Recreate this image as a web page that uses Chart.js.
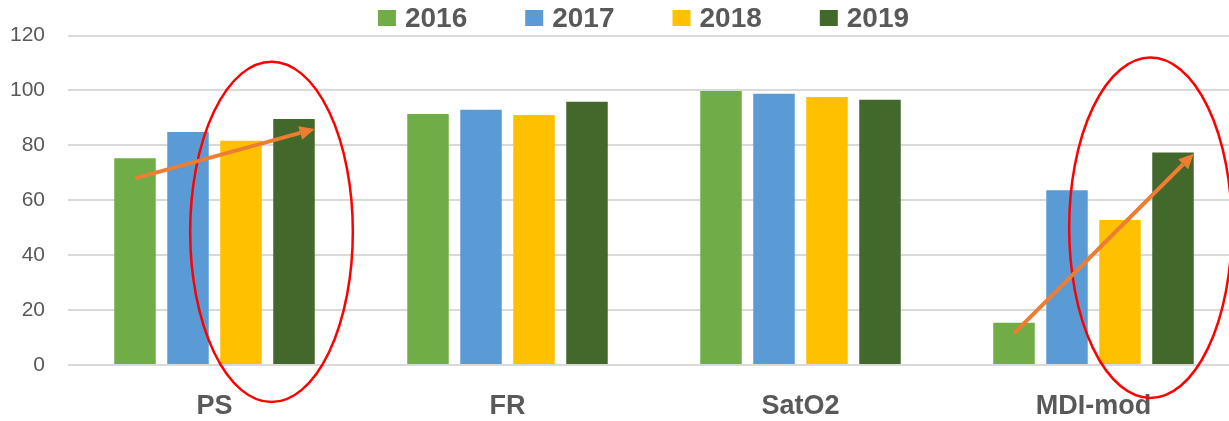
<!DOCTYPE html>
<html>
<head>
<meta charset="utf-8">
<script src="https://cdn.jsdelivr.net/npm/chart.js@4"></script>
<style>
html, body { margin: 0; padding: 0; background: #fff; overflow: hidden; }
#wrap { width: 1287px; height: 421px; position: relative; }
</style>
</head>
<body>
<div id="wrap"><canvas id="chart"></canvas></div>
<script>
const categories = ['PS', 'FR', 'SatO2', 'MDI-mod'];
const years = ['2016', '2017', '2018', '2019'];
const values2016 = [75.3, 91.4, 99.8, 15.4];
const values2017 = [84.9, 93.0, 98.8, 63.7];
const values2018 = [81.7, 91.1, 97.6, 52.8];
const values2019 = [89.6, 95.9, 96.6, 77.4];
const colours = ['#70AD47', '#5B9BD5', '#FFC000', '#43682B'];

// circled groups and their trend arrows, in y-axis units
const circled = ['PS', 'MDI-mod'];
const circleTop = [110.5, 112];
const circleBottom = [-13.5, -12];
const arrowStart = [68, 11.5];
const arrowEnd = [86, 77];

const FONT = '"Liberation Sans", Arial, sans-serif';
const TEXT = '#595959';

const allValues = [values2016, values2017, values2018, values2019];

// legend row drawn by hand so it can sit high above the plot
const legendRow = {
	id: 'legendRow',
	afterDraw(chart) {
		const ctx = chart.ctx;
		ctx.save();
		ctx.font = 'bold 28px ' + FONT;
		const box = 18, gap = 9, space = 58;
		const widths = chart.data.datasets.map(d => ctx.measureText(d.label).width);
		const total = widths.reduce((s, w) => s + box + gap + w, 0) + space * (widths.length - 1);
		let x = chart.width / 2 - total / 2;
		chart.data.datasets.forEach((d, i) => {
			ctx.fillStyle = d.backgroundColor;
			ctx.fillRect(x, 10, box, 16);
			ctx.fillStyle = TEXT;
			ctx.textBaseline = 'alphabetic';
			ctx.fillText(d.label, x + box + gap, 27);
			x += box + gap + widths[i] + space;
		});
		ctx.restore();
	}
};

const notes = {
	id: 'notes',
	afterDatasetsDraw(chart) {
		const ctx = chart.ctx;
		const y = chart.scales.y;
		const first = chart.getDatasetMeta(0);
		const third = chart.getDatasetMeta(2);
		const last = chart.getDatasetMeta(3);
		ctx.save();
		circled.forEach((cat, i) => {
			const k = categories.indexOf(cat);
			const a = third.data[k], b = last.data[k];
			const cx = (a.x + b.x) / 2 + 4;
			const top = y.getPixelForValue(circleTop[i]);
			const bottom = y.getPixelForValue(circleBottom[i]);
			ctx.beginPath();
			ctx.ellipse(cx, (top + bottom) / 2, b.width * 1.96, (bottom - top) / 2, 0, 0, Math.PI * 2);
			ctx.strokeStyle = '#FF0000';
			ctx.lineWidth = 2.5;
			ctx.stroke();
		});
		circled.forEach((cat, i) => {
			const k = categories.indexOf(cat);
			const s = first.data[k], e = last.data[k];
			const x0 = s.x, y0 = y.getPixelForValue(arrowStart[i]);
			const x1 = e.x + e.width / 2, y1 = y.getPixelForValue(arrowEnd[i]);
			const ang = Math.atan2(y1 - y0, x1 - x0);
			const head = 15, half = 7;
			const bx = x1 - head * Math.cos(ang), by = y1 - head * Math.sin(ang);
			ctx.strokeStyle = '#ED7D31';
			ctx.fillStyle = '#ED7D31';
			ctx.lineWidth = 4;
			ctx.beginPath();
			ctx.moveTo(x0, y0);
			ctx.lineTo(bx, by);
			ctx.stroke();
			ctx.beginPath();
			ctx.moveTo(x1, y1);
			ctx.lineTo(bx + half * Math.sin(ang), by - half * Math.cos(ang));
			ctx.lineTo(bx - half * Math.sin(ang), by + half * Math.cos(ang));
			ctx.closePath();
			ctx.fill();
		});
		ctx.restore();
	}
};

new Chart(document.getElementById('chart'), {
	type: 'bar',
	data: {
		labels: categories,
		datasets: years.map((yr, i) => ({
			label: yr,
			data: allValues[i],
			backgroundColor: colours[i],
			borderWidth: 0,
			categoryPercentage: 0.7235,
			barPercentage: 0.783
		}))
	},
	options: {
		responsive: true,
		maintainAspectRatio: false,
		animation: false,
		layout: { padding: { top: 34, left: 11, right: 0, bottom: 0 } },
		plugins: {
			legend: { display: false },
			tooltip: { enabled: false }
		},
		scales: {
			x: {
				grid: { display: false, drawTicks: false },
				border: { display: false },
				ticks: {
					color: TEXT,
					padding: 25,
					font: { family: FONT, size: 27, weight: 'bold' }
				},
				afterFit(scale) { scale.height = 56; }
			},
			y: {
				min: 0,
				max: 120,
				grid: { color: '#D9D9D9', lineWidth: 2, drawTicks: false },
				border: { display: false },
				ticks: {
					stepSize: 20,
					color: TEXT,
					padding: 23,
					font: { family: FONT, size: 21 }
				},
				afterFit(scale) { scale.width = 57; }
			},
			yPad: {
				position: 'right',
				grid: { display: false },
				border: { display: false },
				ticks: { display: false },
				afterFit(scale) { scale.width = 47; }
			}
		}
	},
	plugins: [legendRow, notes]
});
</script>
</body>
</html>
